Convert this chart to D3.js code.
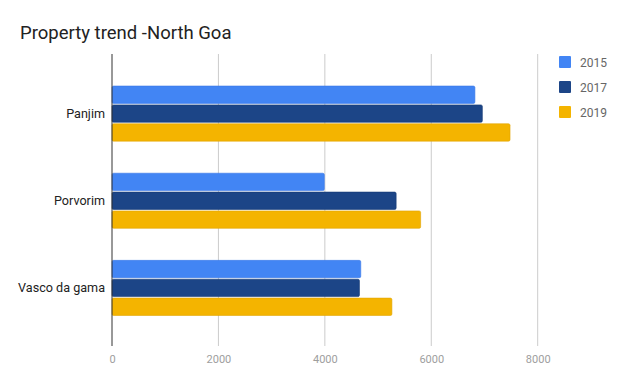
<!DOCTYPE html>
<html><head><meta charset="utf-8">
<script src="https://cdn.jsdelivr.net/npm/d3@7"></script>
<style>body{margin:0;background:#fff}svg{display:block;font-family:Roboto,sans-serif}</style>
</head><body><svg id="c" width="624" height="385"></svg>
<script>
const categories = ["Panjim", "Porvorim", "Vasco da gama"];
const seriesNames = ["2015", "2017", "2019"];
const v2015 = [6820, 3990, 4675];
const v2017 = [6960, 5340, 4650];
const v2019 = [7480, 5800, 5260];
const tickValues = [0, 2000, 4000, 6000, 8000];
const colors = ["#4285f4", "#1c4587", "#f4b400"];
const strokes = ["#3b78e7", "#163a73", "#e0a500"];

const series = [v2015, v2017, v2019];
const svg = d3.select("#c");
const plotTop = 54, plotBottom = 346;
const x = d3.scaleLinear().domain([0, 8000]).range([112, 537.7]);
const y = d3.scaleBand().domain(categories).range([70, 331.5]).paddingInner(0.368).paddingOuter(0.184);
const yi = d3.scaleBand().domain(seriesNames).range([0, y.bandwidth()]).paddingInner(0.08);

svg.append("text").attr("x", 20).attr("y", 39).attr("font-size", 18.5).attr("fill", "#222").text("Property trend -North Goa");

// gridlines
svg.append("g").selectAll("line").data(tickValues.slice(1)).join("line")
  .attr("x1", d => x(d)).attr("x2", d => x(d)).attr("y1", plotTop).attr("y2", plotBottom)
  .attr("stroke", "#cccccc").attr("stroke-width", 1);

// bars
categories.forEach((c, ci) => {
  series.forEach((s, si) => {
    svg.append("rect")
      .attr("x", x(0)).attr("y", y(c) + yi(seriesNames[si]))
      .attr("width", x(s[ci]) - x(0)).attr("height", yi.bandwidth())
      .attr("rx", 1.5).attr("fill", colors[si]).attr("stroke", strokes[si]).attr("stroke-width", 0.6);
  });
});

// baseline
svg.append("line").attr("x1", x(0)).attr("x2", x(0)).attr("y1", plotTop).attr("y2", plotBottom)
  .attr("stroke", "#333").attr("stroke-width", 1);

// axes labels
const xAxis = d3.axisBottom(x).tickValues(tickValues).tickSize(0).tickPadding(0).tickFormat(d3.format("d"));
const gx = svg.append("g").attr("transform", `translate(0,${plotBottom + 17})`).call(xAxis);
gx.select(".domain").remove();
gx.selectAll("text").attr("fill", "#9e9e9e").attr("font-size", 11).attr("font-family", "Roboto, sans-serif").attr("dy", "0");

const yAxis = d3.axisLeft(y).tickSize(0).tickPadding(7);
const gy = svg.append("g").attr("transform", `translate(${x(0)},0)`).call(yAxis);
gy.select(".domain").remove();
gy.selectAll("text").attr("fill", "#222").attr("font-size", 12.6).attr("font-family", "Roboto, sans-serif");

// legend
const lg = svg.append("g").selectAll("g").data(seriesNames).join("g")
  .attr("transform", (d, i) => `translate(559,${56 + i * 25})`);
lg.append("rect").attr("width", 12).attr("height", 12).attr("rx", 1).attr("fill", (d, i) => colors[i]);
lg.append("text").attr("x", 21).attr("y", 10.5).attr("font-size", 12).attr("fill", "#666").text(d => d);
</script></body></html>
